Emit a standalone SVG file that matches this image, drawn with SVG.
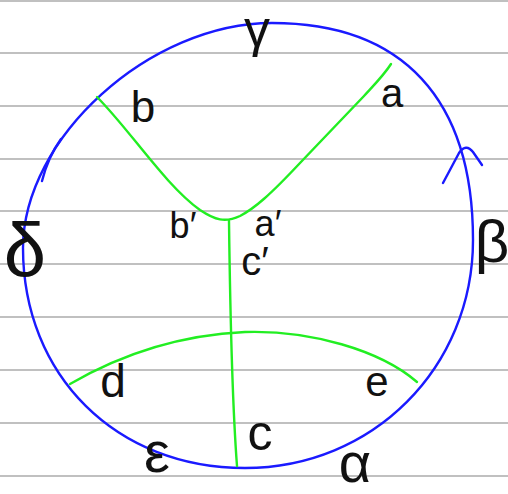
<svg xmlns="http://www.w3.org/2000/svg" width="508" height="494" viewBox="0 0 508 494">
<style>
.rule{stroke:#ababab;stroke-width:1.3}
.blue{fill:none;stroke:#1a1aff;stroke-width:2.4;stroke-linecap:round;stroke-linejoin:round}
.green{fill:none;stroke:#22ee22;stroke-width:2.4;stroke-linecap:round;stroke-linejoin:round}
.lbl{font-family:"Liberation Sans",Arial,sans-serif;fill:#111;text-anchor:middle}
</style>
<rect width="508" height="494" fill="#ffffff"/>
<g id="paper">
<line class="rule" x1="0" y1="1" x2="508" y2="1"/>
<line class="rule" x1="0" y1="53" x2="508" y2="53"/>
<line class="rule" x1="0" y1="106" x2="508" y2="106"/>
<line class="rule" x1="0" y1="159" x2="508" y2="159"/>
<line class="rule" x1="0" y1="211" x2="508" y2="211"/>
<line class="rule" x1="0" y1="264" x2="508" y2="264"/>
<line class="rule" x1="0" y1="317" x2="508" y2="317"/>
<line class="rule" x1="0" y1="370" x2="508" y2="370"/>
<line class="rule" x1="0" y1="423" x2="508" y2="423"/>
<line class="rule" x1="0" y1="476" x2="508" y2="476"/>
</g>
<g id="boundary">
<path class="blue" d="M272,23 C402.7,23 473,99 473,240 C473,367.7 372.7,468 245,468 C116.2,468 23,375.6 23,248 C23,137.75 150,23 272,23 Z"/>
<path class="blue" d="M42,181 Q48,157 61,139"/>
<path class="blue" d="M443,183 L459,153 Q466,143 473,152 L482,165"/>
</g>
<g id="connectors">
<path class="green" d="M97,97 C130,130 165,185 200,210 C215,220 225,223 240,216 C255,208 270,195 300,163 L364,96 C375,84 384,75 391,64"/>
<path class="green" d="M229,221 C230,300 232,400 237,466"/>
<path class="green" d="M70,384 C120,355 180,335 245,332 C310,330 380,350 417,382"/>
</g>
<g id="labels">
<text class="lbl" x="257" y="46" font-size="52">γ</text>
<text class="lbl" x="392" y="107" font-size="40">a</text>
<text class="lbl" x="143" y="122" font-size="44">b</text>
<text class="lbl" x="492" y="262" font-size="60">β</text>
<text class="lbl" x="25" y="276" font-size="76">δ</text>
<text class="lbl" x="183" y="238" font-size="36">b′</text>
<text class="lbl" x="268" y="236" font-size="36">a′</text>
<text class="lbl" x="255" y="275" font-size="40">c′</text>
<text class="lbl" x="113" y="397" font-size="46">d</text>
<text class="lbl" x="377" y="396" font-size="42">e</text>
<text class="lbl" x="157" y="472" font-size="58">ε</text>
<text class="lbl" x="260" y="450" font-size="50">c</text>
<text class="lbl" x="355" y="482" font-size="56">α</text>
</g>
</svg>
